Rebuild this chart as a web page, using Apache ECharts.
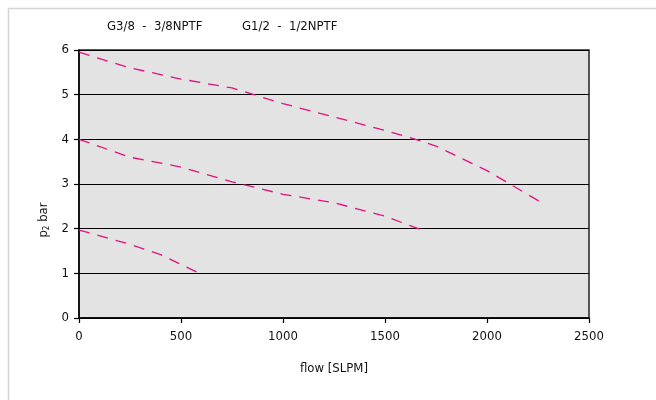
<!DOCTYPE html>
<html>
<head>
<meta charset="utf-8">
<script src="https://cdn.jsdelivr.net/npm/echarts@6/dist/echarts.min.js"></script>
<style>
html,body{margin:0;padding:0;background:#fff;}
#chart{width:656px;height:400px;}
</style>
</head>
<body>
<div id="chart"></div>
<script>
var legendLabels = ['G3/8  -  3/8NPTF', 'G1/2  -  1/2NPTF'];
var xTicks = [0, 500, 1000, 1500, 2000, 2500];
var yTicks = [0, 1, 2, 3, 4, 5, 6];
var curveHighFlow = [0, 250, 500, 750, 1000, 1250, 1500, 1650, 1750, 2000, 2280];
var curveHighP = [5.95, 5.6, 5.35, 5.15, 4.8, 4.5, 4.2, 4.0, 3.85, 3.3, 2.55];
var curveMidFlow = [0, 250, 500, 750, 1000, 1250, 1500, 1680];
var curveMidP = [4.0, 3.6, 3.38, 3.05, 2.77, 2.58, 2.28, 1.97];
var curveLowFlow = [0, 250, 400, 600];
var curveLowP = [1.97, 1.65, 1.42, 0.98];

function pairs(xs, ys) { return xs.map(function (x, i) { return [x, ys[i]]; }); }

var FONT = '"Liberation Sans Narrow", "DejaVu Sans Condensed", "Roboto Condensed", sans-serif';
var lineColor = '#e5107f';
function mkSeries(xs, ys) {
  return {
    type: 'line', data: pairs(xs, ys), showSymbol: false, symbol: 'none',
    smooth: false, silent: true,
    lineStyle: { color: lineColor, width: 1.3, type: [11, 8] }
  };
}

var chart = echarts.init(document.getElementById('chart'), null, { renderer: 'canvas' });
chart.setOption({
  animation: false,
  backgroundColor: '#fff',
  textStyle: { fontFamily: FONT },
  graphic: [
    { type: 'rect', shape: { x: 8.5, y: 8.5, width: 700, height: 500 },
      style: { fill: 'none', stroke: '#d4d4d4', lineWidth: 1.5 }, silent: true },
    { type: 'text', left: 107, top: 20,
      style: { text: legendLabels[0], font: '13px ' + FONT, fill: '#111' } },
    { type: 'text', left: 242, top: 20,
      style: { text: legendLabels[1], font: '13px ' + FONT, fill: '#111' } }
  ],
  grid: {
    left: 79, top: 50, width: 510, height: 268,
    show: true, backgroundColor: '#e3e3e3', borderColor: '#222', borderWidth: 1.5
  },
  xAxis: {
    type: 'value', min: xTicks[0], max: xTicks[xTicks.length - 1], interval: 500,
    name: 'flow [SLPM]', nameLocation: 'middle', nameGap: 44,
    nameTextStyle: { fontFamily: FONT, fontSize: 13, color: '#111' },
    axisLine: { show: true, lineStyle: { color: '#000', width: 1.5 } },
    axisTick: { show: true, inside: false, length: 5, lineStyle: { color: '#000', width: 1.2 } },
    axisLabel: { fontFamily: FONT, fontSize: 13, color: '#111', margin: 12,
      formatter: function (v) { return String(v); } },
    splitLine: { show: false }
  },
  yAxis: {
    type: 'value', min: yTicks[0], max: yTicks[yTicks.length - 1], interval: 1,
    name: '{p|p}{s|2}{p| bar}', nameLocation: 'middle', nameGap: 28, nameRotate: 90,
    nameTextStyle: {
      fontFamily: FONT, color: '#111', padding: [0, 72, 0, 0],
      rich: {
        p: { fontFamily: FONT, fontSize: 13, color: '#111' },
        s: { fontFamily: FONT, fontSize: 8, color: '#111', verticalAlign: 'bottom', padding: [6, 0, 0, 0] }
      }
    },
    axisLine: { show: true, lineStyle: { color: '#000', width: 1.5 } },
    axisTick: { show: true, inside: false, length: 5, lineStyle: { color: '#000', width: 1.2 } },
    axisLabel: { fontFamily: FONT, fontSize: 13, color: '#111', margin: 10 },
    splitLine: { show: true, lineStyle: { color: '#000', width: 1.2 } }
  },
  series: [
    mkSeries(curveHighFlow, curveHighP),
    mkSeries(curveMidFlow, curveMidP),
    mkSeries(curveLowFlow, curveLowP)
  ]
});
</script>
</body>
</html>
